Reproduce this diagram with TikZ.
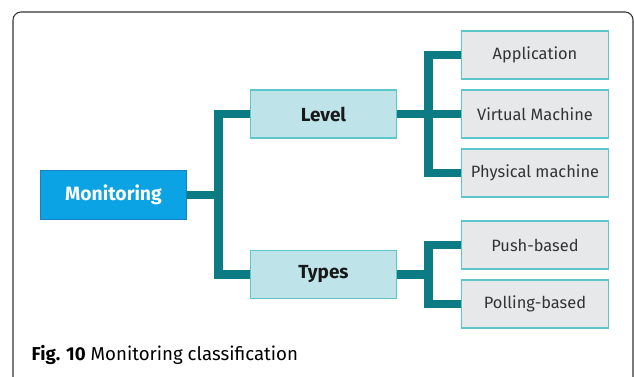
\documentclass[tikz,border=0pt]{standalone}
\usepackage{fontspec}
\setmainfont{Fira Sans}
\usepackage{tikz}
\definecolor{teal1}{HTML}{0C7B83}
\definecolor{mblue}{HTML}{0BA3E3}
\definecolor{mblueb}{HTML}{1A80C4}
\definecolor{lcyan}{HTML}{BEE3E9}
\definecolor{cborder}{HTML}{5CC6CB}
\definecolor{lgray}{HTML}{E7E8EA}
\tikzset{
  conn/.style={teal1,line width=6.5pt},
  rootbox/.style={draw=mblueb,fill=mblue,line width=0.8pt,minimum width=110pt,minimum height=36.5pt,inner sep=0pt,text=white,font=\fontsize{14.5}{16}\selectfont\bfseries},
  midbox/.style={draw=cborder,fill=lcyan,line width=0.8pt,minimum width=110pt,minimum height=36pt,inner sep=0pt,text=black!90,font=\fontsize{14.2}{16}\selectfont\bfseries},
  leafbox/.style={draw=cborder,fill=lgray,line width=0.8pt,minimum width=110pt,minimum height=36pt,inner sep=0pt,text=black!80,font=\fontsize{12.3}{14}\selectfont},
  capt/.style={font=\fontsize{14}{16}\selectfont,anchor=west},
}
\begin{document}
\begin{tikzpicture}[x=0.75pt,y=-0.75pt]
  \useasboundingbox (0,0) rectangle (634,377);
  \begin{scope}
    \clip (0,0) rectangle (634,377);
    \draw[black!80,line width=0.8pt,rounded corners=6pt] (13,390) -- (13,12) -- (633,12) -- (633,390);
  \end{scope}
  \node[rootbox] (mon) at (113.5,195) {Monitoring};
  \node[midbox] (lev) at (323.5,114) {Level};
  \node[midbox] (typ) at (323.5,274.5) {Types};
  \node[leafbox] (app) at (535,55) {Application};
  \node[leafbox] (vm) at (535,114) {Virtual Machine};
  \node[leafbox] (pm) at (535,173) {Physical machine};
  \node[leafbox] (push) at (535,245) {Push-based};
  \node[leafbox] (poll) at (535,304) {Polling-based};
  \draw[conn] (mon.east) -- ++(31,0) |- (lev.west);
  \draw[conn] (mon.east) -- ++(31,0) |- (typ.west);
  \draw[conn] (lev.east) -- ++(31,0) |- (app.west);
  \draw[conn] (lev.east) -- (vm.west);
  \draw[conn] (lev.east) -- ++(31,0) |- (pm.west);
  \draw[conn] (typ.east) -- ++(31,0) |- (push.west);
  \draw[conn] (typ.east) -- ++(31,0) |- (poll.west);
  \node[capt] (cap) at (27,355) {\textbf{Fig. 10} Monitoring classification};
\end{tikzpicture}
\end{document}
